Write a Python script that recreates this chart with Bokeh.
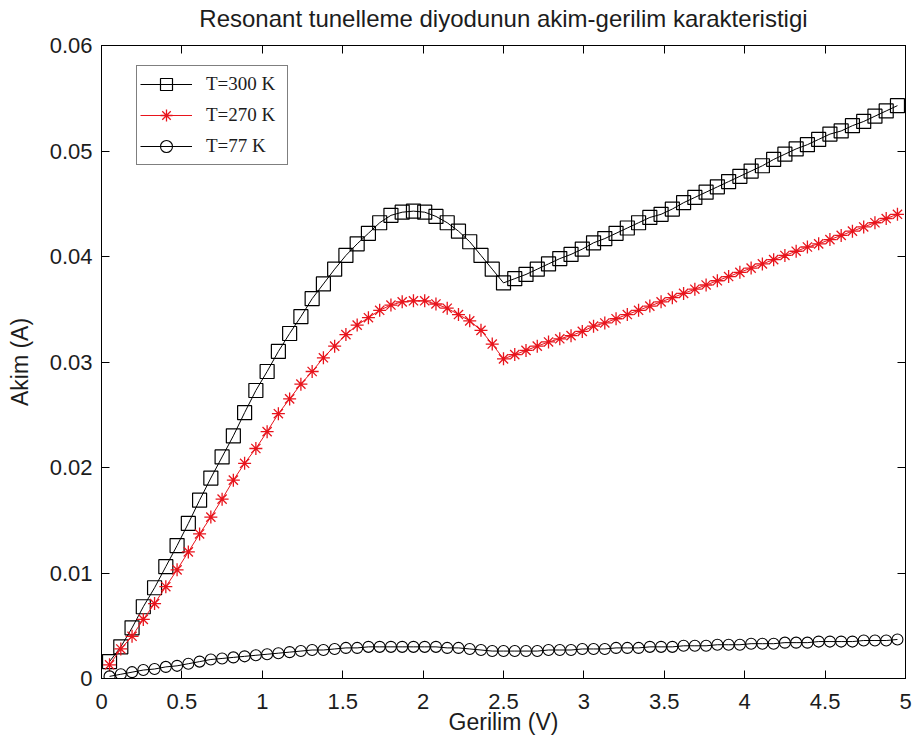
from bokeh.plotting import figure
from bokeh.models import Range1d, FixedTicker, LinearAxis, Legend, LegendItem
from bokeh.embed import file_html
from bokeh.resources import INLINE

# ---------------- data ----------------
voltage = [0.05, 0.12, 0.19, 0.26, 0.33, 0.40, 0.47, 0.54, 0.61, 0.68,
           0.75, 0.82, 0.89, 0.96, 1.03, 1.10, 1.17, 1.24, 1.31, 1.38,
           1.45, 1.52, 1.59, 1.66, 1.73, 1.80, 1.87, 1.94, 2.01, 2.08,
           2.15, 2.22, 2.29, 2.36, 2.43, 2.50, 2.57, 2.64, 2.71, 2.78,
           2.85, 2.92, 2.99, 3.06, 3.13, 3.20, 3.27, 3.34, 3.41, 3.48,
           3.55, 3.62, 3.69, 3.76, 3.83, 3.90, 3.97, 4.04, 4.11, 4.18,
           4.25, 4.32, 4.39, 4.46, 4.53, 4.60, 4.67, 4.74, 4.81, 4.88,
           4.95]

current_300K = [0.0016, 0.0030, 0.0048, 0.0068, 0.0086, 0.0106, 0.0126, 0.0147, 0.0169, 0.0190,
                0.0210, 0.0230, 0.0252, 0.0273, 0.0291, 0.0310, 0.0327, 0.0343, 0.0360, 0.0374,
                0.0388, 0.0401, 0.0412, 0.0422, 0.0432, 0.0439, 0.0442, 0.0443, 0.0442, 0.0438,
                0.0432, 0.0424, 0.0414, 0.0401, 0.0388, 0.0375, 0.0379, 0.0383, 0.0388, 0.0393,
                0.0398, 0.0402, 0.0407, 0.0413, 0.0417, 0.0422, 0.0427, 0.0432, 0.0437, 0.0440,
                0.0445, 0.0451, 0.0456, 0.0461, 0.0466, 0.0471, 0.0476, 0.0481, 0.0486, 0.0492,
                0.0497, 0.0502, 0.0506, 0.0511, 0.0516, 0.0519, 0.0524, 0.0528, 0.0533, 0.0538,
                0.0543]

current_270K = [0.0013, 0.0028, 0.0040, 0.0056, 0.0071, 0.0087, 0.0103, 0.0120, 0.0137, 0.0153,
                0.0170, 0.0188, 0.0204, 0.0218, 0.0234, 0.0251, 0.0265, 0.0279, 0.0291, 0.0304,
                0.0315, 0.0326, 0.0335, 0.0342, 0.0349, 0.0354, 0.0357, 0.0358, 0.0358, 0.0355,
                0.0351, 0.0345, 0.0339, 0.0330, 0.0317, 0.0303, 0.0307, 0.0311, 0.0315, 0.0319,
                0.0322, 0.0325, 0.0329, 0.0334, 0.0337, 0.0341, 0.0345, 0.0349, 0.0353, 0.0357,
                0.0361, 0.0365, 0.0369, 0.0373, 0.0377, 0.0381, 0.0385, 0.0389, 0.0393, 0.0397,
                0.0401, 0.0405, 0.0409, 0.0412, 0.0416, 0.0420, 0.0424, 0.0428, 0.0432, 0.0436,
                0.0440]

current_77K = [0.0002, 0.0004, 0.0006, 0.0008, 0.0009, 0.0011, 0.0012, 0.0014, 0.0016, 0.0018,
               0.0019, 0.0020, 0.0021, 0.0022, 0.0023, 0.0024, 0.0025, 0.0026, 0.0027, 0.0027,
               0.0028, 0.0029, 0.0029, 0.0030, 0.0030, 0.0030, 0.0030, 0.0030, 0.0030, 0.0030,
               0.0029, 0.0029, 0.0028, 0.0027, 0.0026, 0.0026, 0.0026, 0.0026, 0.0026, 0.0027,
               0.0027, 0.0027, 0.0028, 0.0028, 0.0028, 0.0029, 0.0029, 0.0029, 0.0030, 0.0030,
               0.0030, 0.0031, 0.0031, 0.0031, 0.0032, 0.0032, 0.0032, 0.0033, 0.0033, 0.0033,
               0.0034, 0.0034, 0.0034, 0.0035, 0.0035, 0.0035, 0.0035, 0.0036, 0.0036, 0.0036,
               0.0037]

series_labels = ["T=300 K", "T=270 K", "T=77 K"]

x_ticks = [0, 0.5, 1, 1.5, 2, 2.5, 3, 3.5, 4, 4.5, 5]
x_tick_labels = ["0", "0.5", "1", "1.5", "2", "2.5", "3", "3.5", "4", "4.5", "5"]
y_ticks = [0, 0.01, 0.02, 0.03, 0.04, 0.05, 0.06]
y_tick_labels = ["0", "0.01", "0.02", "0.03", "0.04", "0.05", "0.06"]

title_text = "Resonant tunelleme diyodunun akim-gerilim karakteristigi"
x_label = "Gerilim (V)"
y_label = "Akim (A)"

# ---------------- figure ----------------
FONT = "Liberation Sans"
TXT = "#1c1c1c"

p = figure(width=917, height=752, output_backend="svg", toolbar_location=None,
           x_range=Range1d(0, 5), y_range=Range1d(0, 0.06),
           min_border_left=101, min_border_right=12, min_border_top=45, min_border_bottom=74,
           background_fill_color="white", border_fill_color="white")

p.xgrid.visible = False
p.ygrid.visible = False
p.outline_line_color = "black"
p.outline_line_width = 1

def style_axis(ax, ticks, labels, show_labels=True):
    ax.ticker = FixedTicker(ticks=ticks)
    ax.major_tick_in = 8
    ax.major_tick_out = 0
    ax.minor_tick_line_color = None
    ax.axis_line_color = "black"
    ax.major_tick_line_color = "black"
    if show_labels:
        ax.major_label_overrides = {t: l for t, l in zip(ticks, labels)}
        ax.major_label_text_font = FONT
        ax.major_label_text_color = TXT
        ax.major_label_text_font_size = "22px"
    else:
        ax.major_label_text_color = None
        ax.major_label_text_font_size = "1px"
        ax.major_label_standoff = 0

xa = p.xaxis[0]
ya = p.yaxis[0]
style_axis(xa, x_ticks, x_tick_labels)
style_axis(ya, y_ticks, y_tick_labels)
xa.major_label_standoff = 15
ya.major_label_standoff = 9
xa.axis_label = x_label
ya.axis_label = y_label
for ax in (xa, ya):
    ax.axis_label_text_font = FONT
    ax.axis_label_text_font_size = "23px"
    ax.axis_label_text_font_style = "normal"
    ax.axis_label_text_color = TXT
xa.axis_label_standoff = -3
ya.axis_label_standoff = 14

# top axis: mirrored ticks, and the chart title as its label
top_ax = LinearAxis()
style_axis(top_ax, x_ticks, x_tick_labels, show_labels=False)
top_ax.axis_label = title_text
top_ax.axis_label_text_font = FONT
top_ax.axis_label_text_font_size = "24px"
top_ax.axis_label_text_font_style = "normal"
top_ax.axis_label_text_color = TXT
top_ax.axis_label_standoff = 14
p.add_layout(top_ax, "above")

right_ax = LinearAxis()
style_axis(right_ax, y_ticks, y_tick_labels, show_labels=False)
p.add_layout(right_ax, "right")

# ---------------- series ----------------
l300 = p.line(voltage, current_300K, line_color="black", line_width=1)
m300 = p.scatter(voltage, current_300K, marker="square", size=14,
                 line_color="black", line_width=1.2, fill_color=None)

l270 = p.line(voltage, current_270K, line_color="#e8141c", line_width=1)
m270 = p.scatter(voltage, current_270K, marker="asterisk", size=13,
                 line_color="#e8141c", line_width=1.3)

l77 = p.line(voltage, current_77K, line_color="black", line_width=1)
m77 = p.scatter(voltage, current_77K, marker="circle", size=11,
                line_color="black", line_width=1.1, fill_color=None)

legend = Legend(items=[
    LegendItem(label=series_labels[0], renderers=[l300, m300]),
    LegendItem(label=series_labels[1], renderers=[l270, m270]),
    LegendItem(label=series_labels[2], renderers=[l77, m77]),
], location=(35, 513))
legend.label_text_font = "Liberation Serif"
legend.label_text_font_size = "19px"
legend.label_text_color = TXT
legend.glyph_width = 52
legend.glyph_height = 30
legend.label_height = 30
legend.label_width = 78
legend.spacing = 1
legend.padding = 3
legend.margin = 0
legend.label_standoff = 14
legend.border_line_color = "black"
legend.border_line_width = 1
legend.background_fill_color = "white"
legend.background_fill_alpha = 1
p.add_layout(legend, "center")

open("out.html", "w").write(file_html(p, INLINE))
